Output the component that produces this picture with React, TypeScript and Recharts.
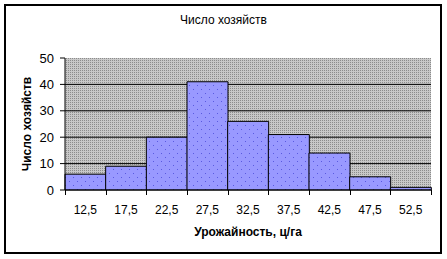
import { BarChart, Bar, XAxis, YAxis, CartesianGrid, Label } from 'recharts'

// урожайность (середины интервалов) и число хозяйств
const categories = ['12,5', '17,5', '22,5', '27,5', '32,5', '37,5', '42,5', '47,5', '52,5']
const counts = [6, 9, 20, 41, 26, 21, 14, 5, 1]
const yTicks = [0, 10, 20, 30, 40, 50]

const data = categories.map((c, i) => ({ name: c, value: counts[i] }))

const FONT = '"Liberation Sans", Arial, sans-serif'
const Y_AXIS_W = 65
const TICK_SIZE = 5
const TICK_MARGIN = 10

// подпись по центру столбца, засечки — по границам интервалов
function EdgeTick(props: any) {
    const { x, y, payload } = props
    const i = categories.indexOf(String(payload.value))
    const cx = Number(x)
    const band = (cx - Y_AXIS_W) / (i + 0.5)
    const axisY = Number(y) - TICK_SIZE - TICK_MARGIN
    const left = Math.round(cx - band / 2)
    const right = Math.round(cx + band / 2)
    return (
        <g>
            <rect x={left} y={axisY} width={1} height={TICK_SIZE} fill="#000" stroke="none" />
            {i === categories.length - 1 && (
                <rect x={right} y={axisY} width={1} height={TICK_SIZE} fill="#000" stroke="none" />
            )}
            <text x={cx} y={y} dy="0.71em" textAnchor="middle" fontSize={12} fill="#000" fontFamily={FONT}>
                {payload.value}
            </text>
        </g>
    )
}

export default function App() {
    return (
        <div style={{ position: 'absolute', left: 0, top: 0, width: 447, height: 259, background: '#fff', fontFamily: FONT }}>
            {/* рамка */}
            <div style={{ position: 'absolute', left: 4, top: 4, width: 434, height: 246, border: '2px solid #000' }} />
            <div style={{ position: 'absolute', left: 0, top: 13, width: 447, textAlign: 'center', fontSize: 12, color: '#000' }}>
                Число хозяйств
            </div>
            <BarChart
                width={447}
                height={259}
                data={data}
                barCategoryGap={0}
                margin={{ top: 58, right: 16, left: 0, bottom: 0 }}
                style={{ position: 'absolute', left: 0, top: 0 }}
            >
                <defs>
                    <pattern id="bgDots" width="2" height="2" patternUnits="userSpaceOnUse">
                        <rect width="2" height="2" fill="#c8c8c8" />
                        <rect width="1" height="1" fill="#8c8c8c" />
                    </pattern>
                    <pattern id="barDots" width="8" height="8" patternUnits="userSpaceOnUse">
                        <rect width="8" height="8" fill="#9999ff" />
                        <rect x="1" y="1" width="1" height="1" fill="#5a5ae0" />
                        <rect x="5" y="5" width="1" height="1" fill="#5a5ae0" />
                    </pattern>
                </defs>
                <CartesianGrid
                    fill="url(#bgDots)"
                    fillOpacity={1}
                    vertical={false}
                    horizontalValues={[10, 20, 30, 40]}
                    stroke="#000"
                    strokeWidth={1}
                />
                <XAxis
                    dataKey="name"
                    height={69}
                    interval={0}
                    axisLine={{ stroke: '#000', strokeWidth: 1 }}
                    tickLine={false}
                    tickSize={TICK_SIZE}
                    tickMargin={TICK_MARGIN}
                    tick={(p: any) => <EdgeTick {...p} />}
                >
                    <Label
                        value="Урожайность, ц/га"
                        position="insideBottom"
                        offset={23}
                        style={{ fontSize: 12, fontWeight: 'bold', fill: '#000', fontFamily: FONT }}
                    />
                </XAxis>
                <YAxis
                    width={Y_AXIS_W}
                    domain={[0, 50]}
                    ticks={yTicks}
                    interval={0}
                    axisLine={{ stroke: '#000', strokeWidth: 1 }}
                    tickLine={{ stroke: '#000' }}
                    tickSize={5}
                    tickMargin={6}
                    tick={{ fontSize: 13, fill: '#000', fontFamily: FONT }}
                >
                    <Label
                        value="Число хозяйств"
                        angle={-90}
                        position="insideLeft"
                        offset={27}
                        textAnchor="middle"
                        style={{ fontSize: 12, fontWeight: 'bold', fill: '#000', fontFamily: FONT, textAnchor: 'middle' }}
                    />
                </YAxis>
                <Bar dataKey="value" fill="url(#barDots)" stroke="#000" strokeWidth={1} isAnimationActive={false} />
            </BarChart>
        </div>
    )
}
